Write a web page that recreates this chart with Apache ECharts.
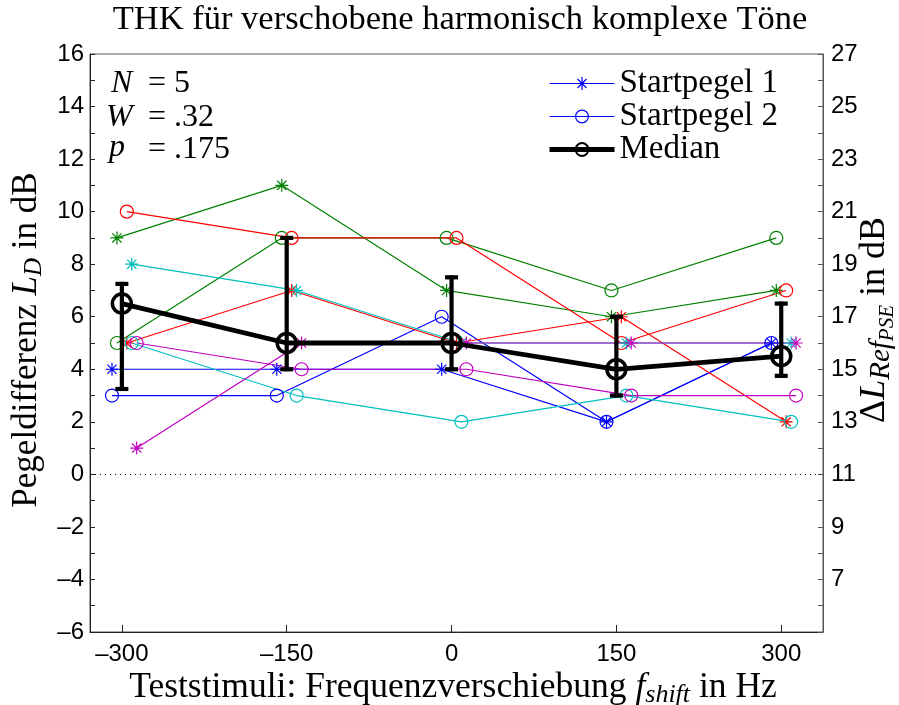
<!DOCTYPE html>
<html><head><meta charset="utf-8">
<script src="https://cdn.jsdelivr.net/npm/echarts@6/dist/echarts.min.js"></script>
<style>html,body{margin:0;padding:0;background:#fff}#c{width:899px;height:705px}</style>
</head><body><div id="c"></div>
<script>
// ---- data ----
const shifts = [-300, -150, 0, 150, 300];            // f_shift in Hz
const xTickValues = [-300, -150, 0, 150, 300];
const leftTickLabels = [-6, -4, -2, 0, 2, 4, 6, 8, 10, 12, 14, 16];
const rightTickLabels = [7, 9, 11, 13, 15, 17, 19, 21, 23, 25, 27];
const subjectJitter = [-9, -4.5, 4.5, 9, 13.5];      // small x offsets (Hz) per subject
// Startpegel 1 (asterisk) and Startpegel 2 (circle) per subject
const vp1_sp1 = [4, 4, 4, 2, 5];
const vp1_sp2 = [3, 3, 6, 2, 5];
const vp2_sp1 = [9, 11, 7, 6, 7];
const vp2_sp2 = [5, 9, 9, 7, 9];
const vp3_sp1 = [5, 7, 5, 6, 2];
const vp3_sp2 = [10, 9, 9, 5, 7];
const vp4_sp1 = [8, 7, 5, 5, 5];
const vp4_sp2 = [5, 3, 2, 3, 2];
const vp5_sp1 = [1, 5, 5, 5, 5];
const vp5_sp2 = [5, 4, 4, 3, 3];
const medianValues = [6.5, 5, 5, 4, 4.5];
const quartileLow = [3.25, 4, 4, 3, 3.75];
const quartileHigh = [7.25, 9, 7.5, 6, 6.5];

// ---- styles ----
const colors = ['#0000ff', '#008000', '#ff0000', '#00bfbf', '#bf00bf'];
const STAR = 'path://M0,-10L0,10M-10,0L10,0M-7.07,-7.07L7.07,7.07M-7.07,7.07L7.07,-7.07';
const SERIF = '"Liberation Serif", "Times New Roman", serif';
const SANS = '"Liberation Sans", Arial, sans-serif';

const subjects = [
  [vp1_sp1, vp1_sp2], [vp2_sp1, vp2_sp2], [vp3_sp1, vp3_sp2], [vp4_sp1, vp4_sp2], [vp5_sp1, vp5_sp2]
];

function subjectSeries(k, which, values) {
  const c = colors[k];
  const star = which === 1;
  const name = k === 0 ? 'Startpegel ' + which : 'VP' + (k + 1) + ' Startpegel ' + which;
  return {
    type: 'line', name: name,
    data: shifts.map((s, i) => [s + subjectJitter[k], values[i]]),
    symbol: star ? STAR : 'circle',
    symbolSize: 13,
    showAllSymbol: true,
    lineStyle: { color: c, width: 1.2 },
    itemStyle: { color: star ? c : 'rgba(0,0,0,0)', borderColor: c, borderWidth: 1.2 },
    emphasis: { disabled: true },
    z: 2
  };
}

const series = [];
subjects.forEach((pair, k) => {
  series.push(subjectSeries(k, 1, pair[0]));
  series.push(subjectSeries(k, 2, pair[1]));
});
series[0].markLine = {
  silent: true, symbol: 'none', label: { show: false },
  lineStyle: { color: '#000', width: 1, type: [1, 4] },
  data: [{ yAxis: 0 }]
};

series.push({
  type: 'custom', name: 'Quartile',
  data: shifts.map((s, i) => [s, quartileLow[i], quartileHigh[i]]),
  encode: { x: 0, y: [1, 2] },
  z: 4,
  renderItem: function (params, api) {
    const x = api.value(0);
    const lo = api.coord([x, api.value(1)]);
    const hi = api.coord([x, api.value(2)]);
    const hw = 6.5;
    const st = { stroke: '#000', lineWidth: 4.2 };
    return {
      type: 'group', children: [
        { type: 'line', shape: { x1: lo[0], y1: lo[1] + 2, x2: hi[0], y2: hi[1] - 2 }, style: st },
        { type: 'line', shape: { x1: lo[0] - hw, y1: lo[1], x2: lo[0] + hw, y2: lo[1] }, style: st },
        { type: 'line', shape: { x1: hi[0] - hw, y1: hi[1], x2: hi[0] + hw, y2: hi[1] }, style: st }
      ]
    };
  }
});

series.push({
  type: 'line', name: 'Median',
  data: shifts.map((s, i) => [s, medianValues[i]]),
  symbol: 'circle', symbolSize: 19,
  lineStyle: { color: '#000', width: 4.8 },
  itemStyle: { color: 'rgba(0,0,0,0)', borderColor: '#000', borderWidth: 3.5 },
  emphasis: { disabled: true },
  z: 5
});

const chart = echarts.init(document.getElementById('c'), null, { renderer: 'canvas' });

const fmtMinus = v => (v < 0 ? '\u2013' + Math.abs(v) : String(v));

chart.setOption({
  animation: false,
  backgroundColor: '#fff',
  grid: { left: 90, right: 76, top: 54, bottom: 73, show: true, borderColor: '#555', borderWidth: 1, backgroundColor: 'transparent' },
  xAxis: {
    type: 'value', min: -329, max: 338,
    axisLine: { onZero: false, lineStyle: { color: '#222', width: 1 } },
    axisTick: { inside: true, length: 7, customValues: xTickValues, lineStyle: { color: '#222' } },
    axisLabel: { customValues: xTickValues, formatter: fmtMinus, fontFamily: SANS, fontSize: 24, color: '#000', margin: 10 },
    splitLine: { show: false }
  },
  yAxis: [{
    type: 'value', min: -6, max: 16, interval: 1, position: 'left',
    axisLine: { show: true, onZero: false, lineStyle: { color: '#222', width: 1 } },
    axisTick: { inside: true, length: 5, lineStyle: { color: '#222' } },
    axisLabel: { customValues: leftTickLabels, formatter: fmtMinus, fontFamily: SANS, fontSize: 24, color: '#000', margin: 6 },
    splitLine: { show: false }
  }, {
    type: 'value', min: 5, max: 27, interval: 1, position: 'right',
    axisLine: { show: true, onZero: false, lineStyle: { color: '#555', width: 1 } },
    axisTick: { inside: true, length: 5, lineStyle: { color: '#555' } },
    axisLabel: { customValues: rightTickLabels, fontFamily: SANS, fontSize: 24, color: '#000', margin: 8 },
    splitLine: { show: false }
  }],
  legend: {
    orient: 'vertical', left: 547, top: 67, padding: 0,
    itemWidth: 65, itemHeight: 16, itemGap: 0,
    textStyle: { fontFamily: SERIF, fontSize: 33, color: '#000', lineHeight: 33 },
    data: [
      { name: 'Startpegel 1', itemStyle: { color: '#0000ff', borderColor: '#0000ff', borderWidth: 1.2 }, lineStyle: { color: '#0000ff', width: 1.2 } },
      { name: 'Startpegel 2', itemStyle: { color: 'rgba(0,0,0,0)', borderColor: '#0000ff', borderWidth: 1.2 }, lineStyle: { color: '#0000ff', width: 1.2 } },
      { name: 'Median', itemStyle: { color: 'rgba(0,0,0,0)', borderColor: '#000', borderWidth: 2 }, lineStyle: { color: '#000', width: 5 } }
    ],
    selectedMode: false
  },
  graphic: [
    { type: 'text', x: 460, y: 20, style: { text: 'THK für verschobene harmonisch komplexe Töne', align: 'center', verticalAlign: 'middle', font: '34.5px ' + SERIF, fill: '#000' } },
    { type: 'text', x: 453, y: 688, style: {
      text: '{t|Teststimuli: Frequenzverschiebung }{i|f}{s|shift}{t| in Hz}', align: 'center', verticalAlign: 'middle',
      rich: {
        t: { fontFamily: SERIF, fontSize: 35.5, color: '#000', verticalAlign: 'middle' },
        i: { fontFamily: SERIF, fontSize: 35.5, fontStyle: 'italic', color: '#000', verticalAlign: 'middle' },
        s: { fontFamily: SERIF, fontSize: 26, fontStyle: 'italic', color: '#000', verticalAlign: 'middle', padding: [14, 0, 0, 0] }
      } } },
    { type: 'text', x: 27, y: 340, rotation: Math.PI / 2, style: {
      text: '{t|Pegeldifferenz }{i|L}{s|D}{t| in dB}', align: 'center', verticalAlign: 'middle',
      rich: {
        t: { fontFamily: SERIF, fontSize: 35, color: '#000', verticalAlign: 'middle' },
        i: { fontFamily: SERIF, fontSize: 35, fontStyle: 'italic', color: '#000', verticalAlign: 'middle' },
        s: { fontFamily: SERIF, fontSize: 25, fontStyle: 'italic', color: '#000', verticalAlign: 'middle', padding: [14, 0, 0, 0] }
      } } },
    { type: 'text', x: 875, y: 320, rotation: Math.PI / 2, style: {
      text: '{t|\u0394}{i|L}{s|Ref}{ss|PSE}{t| in dB}', align: 'center', verticalAlign: 'middle',
      rich: {
        t: { fontFamily: SERIF, fontSize: 36, color: '#000', verticalAlign: 'middle' },
        i: { fontFamily: SERIF, fontSize: 36, fontStyle: 'italic', color: '#000', verticalAlign: 'middle' },
        s: { fontFamily: SERIF, fontSize: 29, fontStyle: 'italic', color: '#000', verticalAlign: 'middle', padding: [12, 0, 0, 0] },
        ss: { fontFamily: SERIF, fontSize: 21, fontStyle: 'italic', color: '#000', verticalAlign: 'middle', padding: [24, 0, 0, 0] }
      } } },
    { type: 'text', x: 111, y: 84, style: { text: 'N', verticalAlign: 'middle', font: 'italic 32px ' + SERIF, fill: '#000' } },
    { type: 'text', x: 148, y: 84, style: { text: '= 5', verticalAlign: 'middle', font: '32px ' + SERIF, fill: '#000' } },
    { type: 'text', x: 106, y: 118, style: { text: 'W', verticalAlign: 'middle', font: 'italic 32px ' + SERIF, fill: '#000' } },
    { type: 'text', x: 148, y: 118, style: { text: '= .32', verticalAlign: 'middle', font: '32px ' + SERIF, fill: '#000' } },
    { type: 'text', x: 109, y: 148, style: { text: 'p', verticalAlign: 'middle', font: 'italic 32px ' + SERIF, fill: '#000' } },
    { type: 'text', x: 148, y: 150, style: { text: '= .175', verticalAlign: 'middle', font: '32px ' + SERIF, fill: '#000' } }
  ],
  series: series
});
</script>
</body></html>
